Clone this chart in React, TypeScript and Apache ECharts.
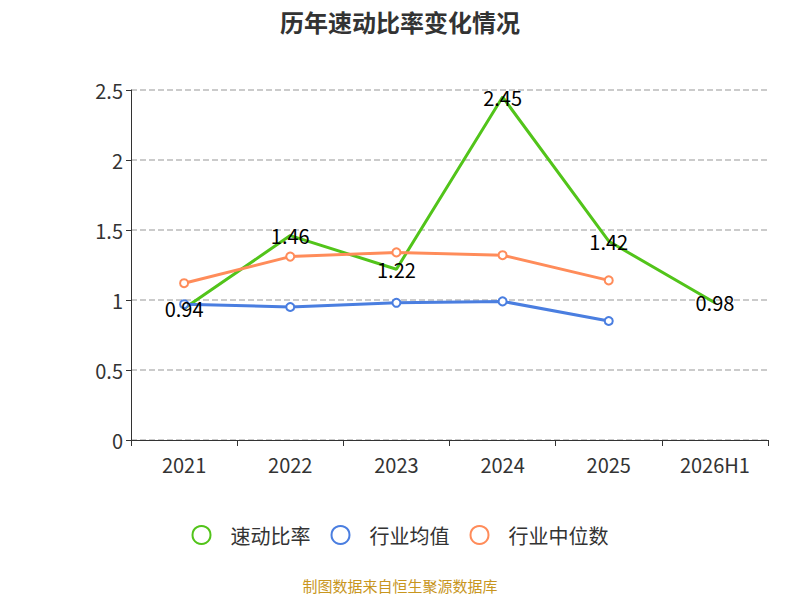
import { useEffect, useRef } from "react";
import * as echarts from "echarts";

const years = ["2021", "2022", "2023", "2024", "2025", "2026H1"];
const quickRatio = [0.94, 1.46, 1.22, 2.45, 1.42, 0.98];
const industryAvg = [0.97, 0.95, 0.98, 0.99, 0.85];
const industryMedian = [1.12, 1.31, 1.34, 1.32, 1.14];

const font = "'Noto Sans CJK SC', 'Noto Sans', sans-serif";

export default function App() {
  const ref = useRef<HTMLDivElement>(null);

  useEffect(() => {
    if (!ref.current) return;
    document.body.style.margin = "0";
    const chart = echarts.init(ref.current, null, { renderer: "svg" });
    chart.setOption({
      animation: false,
      textStyle: { fontFamily: font },
      title: {
        text: "历年速动比率变化情况",
        left: "center",
        top: 4,
        textStyle: { fontSize: 24, fontWeight: "bold", color: "#333", fontFamily: font },
      },
      grid: { left: 131, right: 32, top: 90, bottom: 160 },
      legend: {
        top: 520,
        itemWidth: 48,
        itemHeight: 18,
        itemGap: 20,
        textStyle: { fontSize: 20, color: "#333" },
        data: [
          { name: "速动比率", icon: "emptyCircle" },
          { name: "行业均值", icon: "emptyCircle" },
          { name: "行业中位数", icon: "emptyCircle" },
        ],
      },
      graphic: [
        {
          type: "text",
          left: "center",
          top: 578,
          style: { text: "制图数据来自恒生聚源数据库", fontSize: 15, fill: "#c8961e", fontFamily: font },
        },
      ],
      xAxis: {
        type: "category",
        data: years,
        axisLine: { lineStyle: { color: "#333" } },
        axisTick: { show: true, length: 6 },
        axisLabel: { fontSize: 20, color: "#333", margin: 14 },
      },
      yAxis: {
        type: "value",
        min: 0,
        max: 2.5,
        interval: 0.5,
        axisLine: { show: true, lineStyle: { color: "#333" } },
        axisTick: { show: true },
        axisLabel: { fontSize: 20, color: "#333" },
        splitLine: { lineStyle: { type: "dashed", color: "#bbb", width: 1.5 } },
      },
      series: [
        {
          name: "速动比率",
          type: "line",
          data: quickRatio,
          symbol: "circle",
          symbolSize: 1,
          lineStyle: { width: 3, color: "#52c41a" },
          itemStyle: { color: "#52c41a" },
          label: { show: true, position: "inside", fontSize: 20, color: "#000" },
        },
        {
          name: "行业均值",
          type: "line",
          data: industryAvg,
          symbol: "emptyCircle",
          symbolSize: 8,
          lineStyle: { width: 3, color: "#4a7ee0" },
          itemStyle: { color: "#4a7ee0", borderWidth: 2 },
        },
        {
          name: "行业中位数",
          type: "line",
          data: industryMedian,
          symbol: "emptyCircle",
          symbolSize: 8,
          lineStyle: { width: 3, color: "#ff8c5a" },
          itemStyle: { color: "#ff8c5a", borderWidth: 2 },
        },
      ],
    });
    return () => chart.dispose();
  }, []);

  return <div ref={ref} style={{ width: 800, height: 600 }} />;
}
